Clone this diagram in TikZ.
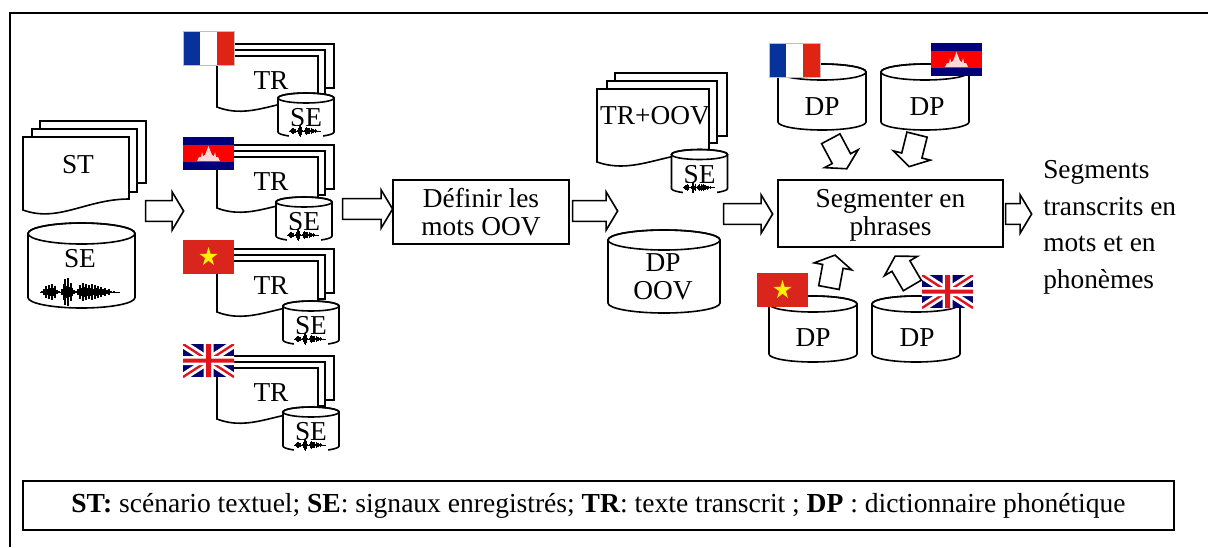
\documentclass[tikz,border=0pt]{standalone}
\usepackage{fontspec}
\setmainfont{Liberation Serif}
\usetikzlibrary{shapes.arrows}
\definecolor{frblue}{RGB}{8,50,155}
\definecolor{frred}{RGB}{224,36,20}
\definecolor{vnred}{RGB}{218,37,29}
\definecolor{khblue}{RGB}{0,0,120}
\definecolor{khred}{RGB}{255,0,0}
\definecolor{ukblue}{RGB}{0,0,110}
\definecolor{ukred}{RGB}{225,20,30}
\tikzset{
    x=0.75pt,y=-0.75pt,
    every node/.style={font=\fontsize{20.5pt}{21pt}\selectfont,inner sep=0pt},
    line/.style={draw=black,line width=1.2pt},
    paper/.style={line,fill=white,line join=miter},
    box/.style={line,fill=white,align=center},
    blockarrow/.style={line,fill=white,single arrow,sloped,allow upside down,
        minimum height=#1*0.75pt,inner ysep=7.2pt,inner xsep=0pt,
        single arrow head extend=6.5pt,single arrow tip angle=118},
}
% one sheet: left, top, right, bottom right, bottom left
\newcommand{\sheet}[5]{
    \draw[paper] (#1,#2) -- (#1,#5)
        .. controls (#1+0.33*#3-0.33*#1,#5+13) and (#1+0.6*#3-0.6*#1,#4) .. (#3,#4)
        -- (#3,#2) -- cycle;
}
% three sheets of a transcript, shifted down by #1
\newcommand{\trstack}[1]{
    \draw[paper] (233,44+#1) rectangle (334,88+#1);
    \draw[paper] (225,50+#1) rectangle (325,94+#1);
    \sheet{217}{56+#1}{318}{99+#1}{107+#1}
    \node (tr#1) at (271,81+#1) {TR};
}
% cylinder: name, centre x, centre y, width, height, radius of its ends
\newcommand{\dbase}[6]{
    \coordinate (#1) at (#2,#3);
    \draw[paper] (#2-#4/2,#3-#5/2+#6) -- (#2-#4/2,#3+#5/2-#6)
        arc[start angle=180,end angle=0,x radius=#4/2,y radius=#6]
        -- (#2+#4/2,#3-#5/2+#6)
        arc[start angle=0,end angle=-180,x radius=#4/2,y radius=#6] -- cycle;
    \draw[line] (#2,#3-#5/2+#6) ellipse[x radius=#4/2,y radius=#6];
}
% recorded signal at (#1,#2), #3 is the scale, #4 the bar width
\newcommand{\sewave}[4]{
    \begin{scope}[shift={(#1,#2)},scale=#3]
        \draw[line width=0.25pt] (-40,0) -- (40,0);
        \foreach \dx/\dy in {-38/1,-36/3,-34/6,-33/3,-31/7,-30/4,-28/8,-27/4,-25/6,-23/2,-21/1,-18/3,-16/8,-15/13,-14/6,-12/14,-11/5,-9/9,-8/4,-6/2,-4/1,-2/3,0/7,1/4,3/9,4/5,6/8,7/4,9/7,10/4,12/8,13/3,15/7,16/4,18/6,19/3,21/5,23/3,25/4,27/2,29/3,31/1,34/1}{
            \draw[line width=#4] (\dx,-\dy) -- (\dx,\dy);
        }
    \end{scope}
}
% small cylinder with a signal, centre #2,#3
\newcommand{\smallse}[3]{
    \dbase{#1}{#2}{#3}{56}{44}{5}
    \node (#1t) at (#2,#3+3) {SE};
    \fill[white] (#2-17,#3+11) rectangle (#2+17,#3+23.5);
    \sewave{#2-1}{#3+16}{0.4}{0.6pt}
}
\newcommand{\flagfr}[2]{
    \begin{scope}[shift={(#1,#2)}]
        \fill[frblue] (0,0) rectangle (17,34);
        \fill[white] (17,0) rectangle (34,34);
        \fill[frred] (34,0) rectangle (51,34);
        \draw[black!25,line width=0.4pt] (0,0) rectangle (51,34);
    \end{scope}
}
\newcommand{\flagkh}[2]{
    \begin{scope}[shift={(#1,#2)}]
        \fill[khblue] (0,0) rectangle (51,33);
        \fill[khred] (0,8) rectangle (51,25);
        \fill[white!85!red] (14,24) -- (16,20) -- (18,20) -- (19,15) -- (20,19) -- (22,18)
            -- (25.5,9) -- (29,18) -- (31,19) -- (32,15) -- (33,20) -- (35,20) -- (37,24) -- cycle;
    \end{scope}
}
\newcommand{\flagvn}[2]{
    \begin{scope}[shift={(#1,#2)}]
        \fill[vnred] (0,0) rectangle (51,34);
        \fill[yellow] (25.5,7) -- (27.6,13.9) -- (34.5,13.9) -- (28.9,18.1) -- (31,25)
            -- (25.5,20.7) -- (20,25) -- (22.1,18.1) -- (16.5,13.9) -- (23.4,13.9) -- cycle;
    \end{scope}
}
\newcommand{\flaguk}[2]{
    \begin{scope}[shift={(#1,#2)}]
        \clip (0,0) rectangle (51,33);
        \fill[ukblue] (0,0) rectangle (51,33);
        \draw[white,line width=6pt] (0,0) -- (51,33) (0,33) -- (51,0);
        \draw[ukred,line width=1.8pt] (0,0) -- (51,33) (0,33) -- (51,0);
        \fill[white] (20.5,0) rectangle (30.5,33) (0,12) rectangle (51,21);
        \fill[ukred] (23,0) rectangle (28,33) (0,14.5) rectangle (51,18.5);
    \end{scope}
}

\begin{document}
\begin{tikzpicture}
    \useasboundingbox (0,0) rectangle (1208,547);
    \draw[line] (10,547) -- (10,13) -- (1208,13);

    % scenario and signals
    \draw[paper] (40,121) rectangle (146,183);
    \draw[paper] (32,129) rectangle (137,192);
    \sheet{23}{137}{129}{199}{210}
    \node (st) at (78,165) {ST};
    \dbase{seMain}{81.5}{265.5}{107}{85}{10.5}
    \node (seMaint) at (80,259) {SE};
    \sewave{80}{292}{1}{0.8pt}

    % transcripts
    \trstack{0}
    \smallse{seFr}{306}{115}
    \flagfr{183}{31}
    \trstack{101}
    \smallse{seKh}{304}{219}
    \flagkh{183}{137}
    \trstack{205}
    \smallse{seVn}{311}{323}
    \flagvn{183}{240}
    \trstack{312}
    \smallse{seUk}{311}{429}
    \flaguk{183}{344}

    % oov
    \node[box,minimum width=176*0.75pt,minimum height=64*0.75pt] (oov) at (481,212) {Définir les\\[-0.5pt]mots OOV};
    \draw[paper] (615,73) rectangle (727,136);
    \draw[paper] (607,81) rectangle (717,143);
    \sheet{597}{89}{709}{152}{162}
    \node (troov) at (655,116) {TR+OOV};
    \smallse{seOov}{699.5}{171.5}
    \dbase{dpOov}{664}{271.5}{112}{83}{10}
    \node[align=center] (dpOovt) at (663,277) {DP\\OOV};

    % dictionaries
    \node[box,minimum width=225*0.75pt,minimum height=67*0.75pt] (seg) at (890.5,213.5) {};
    \node[align=center] (segt) at (890.5,215.5) {Segmenter en\\phrases};
    \dbase{dpFr}{822}{97}{88}{66}{8}
    \node (dpFrt) at (822,107) {DP};
    \dbase{dpKh}{925}{97}{88}{66}{8}
    \node (dpKht) at (927,107) {DP};
    \dbase{dpVn}{813}{329}{88}{66}{8}
    \node (dpVnt) at (813,338) {DP};
    \dbase{dpUk}{916}{329}{88}{66}{8}
    \node (dpUkt) at (917,338) {DP};
    \flagfr{769}{43}
    \flagkh{931}{43}
    \flagvn{757}{273}
    \flaguk{922}{275}

    % connectors
    \coordinate (a1s) at (142.5,211);  \coordinate (a1e) at (180.5,211);
    \coordinate (a2s) at (339.5,209);  \coordinate (a2e) at (389.5,209);
    \coordinate (a3s) at (569.5,211);  \coordinate (a3e) at (614.5,211);
    \coordinate (a4s) at (720.5,214);  \coordinate (a4e) at (769.5,214);
    \coordinate (a5s) at (1002.5,214); \coordinate (a5e) at (1028.5,214);
    \coordinate (a6s) at (829.3,136);  \coordinate (a6e) at (845.3,166);
    \coordinate (a7s) at (917.8,131.6);  \coordinate (a7e) at (909.8,163.6);
    \coordinate (a8s) at (828.4,290.4);  \coordinate (a8e) at (834.4,258.4);
    \coordinate (a9s) at (913.8,288);  \coordinate (a9e) at (896.8,259);
    \path (a1s) -- node[blockarrow=38] (a1) {} (a1e);
    \path (a2s) -- node[blockarrow=50] (a2) {} (a2e);
    \path (a3s) -- node[blockarrow=45] (a3) {} (a3e);
    \path (a4s) -- node[blockarrow=49] (a4) {} (a4e);
    \path (a5s) -- node[blockarrow=26] (a5) {} (a5e);
    \path (a6s) -- node[blockarrow=34] (a6) {} (a6e);
    \path (a7s) -- node[blockarrow=33] (a7) {} (a7e);
    \path (a8s) -- node[blockarrow=33] (a8) {} (a8e);
    \path (a9s) -- node[blockarrow=34] (a9) {} (a9e);

    % result and legend
    \node[anchor=north west,align=left,font=\fontsize{20.5pt}{27.5pt}\selectfont] (res) at (1043,160) {Segments\\transcrits en\\mots et en\\phonèmes};
    \node[line,minimum width=1151*0.75pt,minimum height=49*0.75pt,font=\fontsize{20.65pt}{21pt}\selectfont] (legend) at (598.5,505.5) {\textbf{ST:} scénario textuel; \textbf{SE}: signaux enregistrés; \textbf{TR}: texte transcrit ; \textbf{DP} : dictionnaire phonétique};
\end{tikzpicture}
\end{document}
